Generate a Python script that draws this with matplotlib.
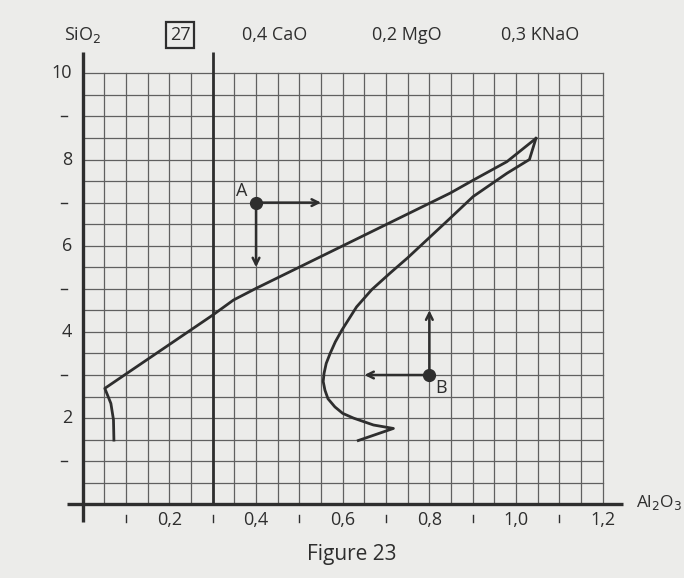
import matplotlib.pyplot as plt

plt.rcParams['font.family'] = ['Open Sans', 'DejaVu Sans']

# Al2O3 (x) / SiO2 (y) curves
upper_x = [0.072, 0.071, 0.065, 0.051, 0.300, 0.348, 0.400, 0.848, 0.901, 0.979, 1.046]
upper_y = [1.49, 1.96, 2.34, 2.69, 4.39, 4.74, 5.01, 7.22, 7.52, 7.95, 8.49]

lower_x = [1.046, 1.031, 0.979, 0.901, 0.844, 0.750, 0.710, 0.667, 0.632, 0.598,
           0.583, 0.571, 0.562, 0.557, 0.555, 0.559, 0.566, 0.582, 0.600, 0.625,
           0.671, 0.717, 0.636]
lower_y = [8.49, 8.00, 7.68, 7.14, 6.60, 5.72, 5.37, 4.98, 4.58, 4.04,
           3.77, 3.50, 3.27, 3.04, 2.85, 2.65, 2.45, 2.26, 2.11, 2.00,
           1.84, 1.76, 1.48]

# points A and B with their arrow end points
point_a = (0.40, 7.0)
arrows_a = [(0.55, 7.0), (0.40, 5.5)]
point_b = (0.80, 3.0)
arrows_b = [(0.80, 4.5), (0.65, 3.0)]

y_labels = [2, 4, 6, 8, 10]
y_dashes = [1, 3, 5, 7, 9]
x_labels = [0.2, 0.4, 0.6, 0.8, 1.0, 1.2]
x_marks = [0.1, 0.3, 0.5, 0.7, 0.9, 1.1]

headers = ["0,4 CaO", "0,2 MgO", "0,3 KNaO"]
header_x = [0.444, 0.748, 1.055]

bg = '#ececea'
ink = '#2e2e2e'

fig = plt.figure(figsize=(6.84, 5.78), dpi=100, facecolor=bg)
ax = fig.add_axes([0, 0, 1, 1])
ax.set_facecolor(bg)
ax.set_xlim(-0.1909, 1.3877)
ax.set_ylim(-1.710, 11.701)
ax.axis('off')

# fine grid, 0.05 by 0.5
for i in range(1, 25):
    ax.plot([i * 0.05, i * 0.05], [0, 10], color='#606060', lw=0.9, zorder=1)
for j in range(1, 21):
    ax.plot([0, 1.2], [j * 0.5, j * 0.5], color='#606060', lw=0.9, zorder=1)

# axes and the 0.3 divider
ax.plot([0, 0], [-0.41, 10.49], color=ink, lw=2.4, zorder=3, solid_capstyle='butt')
ax.plot([-0.036, 1.247], [0, 0], color=ink, lw=2.4, zorder=3, solid_capstyle='butt')
ax.plot([0.3, 0.3], [0, 10.49], color=ink, lw=2.0, zorder=3, solid_capstyle='butt')

# curves
ax.plot(upper_x, upper_y, color=ink, lw=2.0, zorder=4)
ax.plot(lower_x, lower_y, color=ink, lw=2.0, zorder=4)

# points with arrows
for pt, ends, lab, off in [(point_a, arrows_a, 'A', (-0.033, 0.27)),
                           (point_b, arrows_b, 'B', (0.027, -0.30))]:
    for end in ends:
        ax.annotate('', xy=end, xytext=pt,
                    arrowprops=dict(arrowstyle='->', color=ink, lw=1.8,
                                    mutation_scale=12, shrinkA=0, shrinkB=0),
                    zorder=5)
    ax.plot(*pt, 'o', color=ink, ms=8.5, zorder=6)
    ax.text(pt[0] + off[0], pt[1] + off[1], lab, fontsize=13, color=ink,
            ha='center', va='center', zorder=6)

# tick labels
for v in y_labels:
    ax.text(-0.024, v, str(v), fontsize=13, color=ink, ha='right', va='center')
for v in y_dashes:
    ax.plot([-0.050, -0.036], [v, v], color=ink, lw=1.0)
for v in x_labels:
    ax.text(v, -0.36, f"{v:.1f}".replace('.', ','), fontsize=13, color=ink,
            ha='center', va='center')
for v in x_marks:
    ax.plot([v, v], [-0.25, -0.41], color=ink, lw=1.0)

# header texts
ax.text(0.0, 10.89, 'SiO$_2$', fontsize=13, color=ink, ha='center', va='center')
ax.text(0.225, 10.89, '27', fontsize=13, color=ink, ha='center', va='center',
        bbox=dict(boxstyle='square,pad=0.2', fc='none', ec=ink, lw=1.6))
for hx, h in zip(header_x, headers):
    ax.text(hx, 10.89, h, fontsize=13, color=ink, ha='center', va='center')

ax.text(1.276, 0.05, 'Al$_2$O$_3$', fontsize=12.5, color=ink, ha='left', va='center')
ax.text(0.622, -1.17, 'Figure 23', fontsize=15, color=ink, ha='center', va='center')

fig.savefig('out.png', dpi=100, facecolor=bg)
